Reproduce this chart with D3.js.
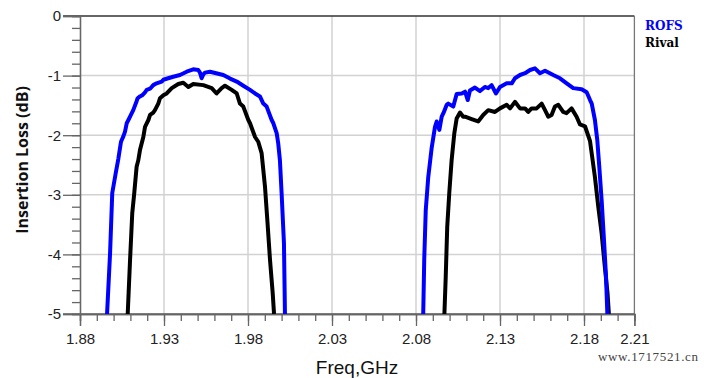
<!DOCTYPE html>
<html>
<head>
<meta charset="utf-8">
<script src="https://cdn.jsdelivr.net/npm/d3@7"></script>
<style>
  body { margin: 0; background: #fff; }
  svg { display: block; }
</style>
</head>
<body>
<svg id="chart" width="709" height="378"></svg>
<script>
// ROFS, lower band
let rofsFreq1 = [1.8961, 1.8979, 1.8992, 1.9013, 1.9028, 1.9044, 1.9058, 1.9068, 1.9078, 1.9088, 1.9103, 1.9117,
  1.9137, 1.9143, 1.9157, 1.9170, 1.9187, 1.9197, 1.9217, 1.9236, 1.9256, 1.9286, 1.9296, 1.9325, 1.9355,
  1.9395, 1.9435, 1.9474, 1.9504, 1.9514, 1.9524, 1.9534, 1.9544, 1.9574, 1.9653, 1.9693, 1.9733, 1.9772,
  1.9812, 1.9842, 1.9871, 1.9891, 1.9911, 1.9941, 1.9951, 1.9971, 1.9980, 1.9990, 2.0000, 2.0014, 2.0020]
let rofsLoss1 = [-5, -3.98, -2.97, -2.63, -2.40, -2.11, -2.02, -1.94, -1.80, -1.745, -1.66, -1.58,
  -1.43, -1.38, -1.35, -1.33, -1.28, -1.24, -1.22, -1.16, -1.13, -1.10, -1.07, -1.045, -1.02,
  -0.99, -0.935, -0.895, -0.906, -0.95, -1.045, -0.98, -0.95, -0.935, -0.99, -1.05, -1.10, -1.17,
  -1.24, -1.30, -1.35, -1.47, -1.52, -1.745, -1.80, -1.97, -2.14, -2.42, -2.97, -3.81, -5]

// Rival, lower band
let rivalFreq1 = [1.9084, 1.9098, 1.9111, 1.9123, 1.9137, 1.9147, 1.9157, 1.9177, 1.9187, 1.9207, 1.9217, 1.9236,
  1.9246, 1.9266, 1.9276, 1.9296, 1.9316, 1.9346, 1.9385, 1.9415, 1.9445, 1.9474, 1.9534, 1.9584, 1.9613,
  1.9643, 1.9663, 1.9703, 1.9733, 1.9752, 1.9772, 1.9802, 1.9812, 1.9842, 1.9861, 1.9881, 1.9901, 1.9915,
  1.9931, 1.9947, 1.9955]
let rivalLoss1 = [-5, -4.09, -3.31, -2.97, -2.53, -2.42, -2.25, -2.03, -1.86, -1.745, -1.66, -1.62,
  -1.58, -1.47, -1.38, -1.33, -1.30, -1.21, -1.14, -1.12, -1.19, -1.14, -1.16, -1.21, -1.30,
  -1.21, -1.17, -1.24, -1.30, -1.47, -1.52, -1.745, -1.80, -2.03, -2.11, -2.30, -2.86, -3.42,
  -4.09, -4.65, -5]

// ROFS, upper band
let rofsFreq2 = [2.0843, 2.0849, 2.0858, 2.0873, 2.0893, 2.0913, 2.0923, 2.0939, 2.0953, 2.0963, 2.0983, 2.0992,
  2.1022, 2.1042, 2.1072, 2.1092, 2.1108, 2.1121, 2.1151, 2.1181, 2.1210, 2.1230, 2.1250, 2.1276, 2.1300,
  2.1340, 2.1370, 2.1389, 2.1419, 2.1449, 2.1479, 2.1508, 2.1538, 2.1568, 2.1617, 2.1657, 2.1697, 2.1736,
  2.1786, 2.1816, 2.1836, 2.1846, 2.1865, 2.1879, 2.1891, 2.1905, 2.1919, 2.1931, 2.1939]
let rofsLoss2 = [-5, -4.09, -3.26, -2.70, -2.22, -1.86, -1.77, -1.91, -1.69, -1.63, -1.49, -1.47,
  -1.52, -1.31, -1.30, -1.27, -1.41, -1.25, -1.20, -1.26, -1.19, -1.21, -1.16, -1.30, -1.19,
  -1.13, -1.13, -1.045, -0.99, -0.96, -0.906, -0.878, -0.96, -0.918, -0.99, -1.045, -1.13, -1.21,
  -1.23, -1.28, -1.41, -1.47, -1.745, -2.08, -2.53, -3.09, -3.76, -4.37, -5]

// Rival, upper band
let rivalFreq2 = [2.0969, 2.0977, 2.0986, 2.0998, 2.1012, 2.1028, 2.1042, 2.1062, 2.1081, 2.1092, 2.1131, 2.1170,
  2.1200, 2.1230, 2.1270, 2.1300, 2.1340, 2.1360, 2.1389, 2.1419, 2.1449, 2.1468, 2.1488, 2.1518, 2.1548,
  2.1568, 2.1587, 2.1607, 2.1627, 2.1647, 2.1676, 2.1696, 2.1726, 2.1756, 2.1776, 2.1806, 2.1836, 2.1865,
  2.1885, 2.1905, 2.1924, 2.1940, 2.1948]
let rivalLoss2 = [-5, -4.37, -3.53, -2.97, -2.42, -1.97, -1.72, -1.62, -1.69, -1.69, -1.73, -1.77,
  -1.66, -1.58, -1.61, -1.55, -1.49, -1.55, -1.44, -1.55, -1.55, -1.61, -1.55, -1.55, -1.47,
  -1.58, -1.69, -1.66, -1.52, -1.49, -1.61, -1.63, -1.55, -1.69, -1.82, -1.85, -2.10, -2.70,
  -3.20, -3.65, -4.21, -4.65, -5]

let xTickValues = [1.88, 1.93, 1.98, 2.03, 2.08, 2.13, 2.18, 2.21]
let yTickValues = [0, -1, -2, -3, -4, -5]
let seriesNames = ["ROFS", "Rival"]
let seriesColors = ["#0000ff", "#000000"]

let width = 709,
    height = 378,
    margins = {left: 80, right: 75, top: 16, bottom: 64};

let svg = d3.select("#chart")

let x = d3.scaleLinear().domain([1.88, 2.21]).range([margins.left, 634.4])
let y = d3.scaleLinear().domain([-5, 0]).range([height - margins.bottom, margins.top])

let minorX = d3.range(188, 222).map(d => d / 100)
let minorY = d3.range(0, 26).map(d => -d / 5)
let gridColor = "#d2d2d2",
    axisColor = "#666"

// grid
svg.append("g")
  .selectAll("line")
  .data(xTickValues.slice(1, -1)).enter()
  .append("line")
  .attr("x1", d => x(d)).attr("x2", d => x(d))
  .attr("y1", y(0)).attr("y2", y(-5))
  .attr("stroke", gridColor).attr("stroke-width", 1.5)

svg.append("g")
  .selectAll("line")
  .data(yTickValues.slice(1, -1)).enter()
  .append("line")
  .attr("x1", x(1.88)).attr("x2", x(2.21))
  .attr("y1", d => y(d)).attr("y2", d => y(d))
  .attr("stroke", gridColor).attr("stroke-width", 1.5)

// frame: top and right
svg.append("line")
  .attr("x1", x(1.88) - 17).attr("x2", x(2.21))
  .attr("y1", y(0)).attr("y2", y(0))
  .attr("stroke", "#333").attr("stroke-width", 1.3)
svg.append("line")
  .attr("x1", x(2.21)).attr("x2", x(2.21))
  .attr("y1", y(0)).attr("y2", y(-5))
  .attr("stroke", "#777").attr("stroke-width", 1.3)

// axes
let xMinor = svg.append("g")
  .attr("transform", `translate(0, ${y(-5)})`)
  .call(d3.axisBottom(x).tickValues(minorX).tickSize(7).tickFormat(""))
let xAxis = svg.append("g")
  .attr("transform", `translate(0, ${y(-5)})`)
  .call(d3.axisBottom(x).tickValues(xTickValues).tickSize(12).tickPadding(7)
    .tickFormat(d3.format(".2f")))

let yMinor = svg.append("g")
  .attr("transform", `translate(${x(1.88)}, 0)`)
  .call(d3.axisLeft(y).tickValues(minorY).tickSize(8).tickFormat(""))
let yAxis = svg.append("g")
  .attr("transform", `translate(${x(1.88)}, 0)`)
  .call(d3.axisLeft(y).tickValues(yTickValues).tickSize(17).tickPadding(2)
    .tickFormat(d => d === 0 ? "0" : "-" + Math.abs(d)))

for (let g of [xMinor, xAxis, yMinor, yAxis]) {
  g.select(".domain").attr("stroke", axisColor).attr("stroke-width", 1.3)
  g.selectAll(".tick line").attr("stroke", axisColor).attr("stroke-width", 1.3)
  g.selectAll(".tick text")
    .attr("fill", "#222")
    .style("font-family", "Liberation Sans, Arial, sans-serif")
    .style("font-size", "15px")
}
// extend bottom line out to the -5 tick
svg.append("line")
  .attr("x1", x(1.88) - 17).attr("x2", x(2.21))
  .attr("y1", y(-5)).attr("y2", y(-5))
  .attr("stroke", axisColor).attr("stroke-width", 1.3)

// curves
svg.append("clipPath").attr("id", "plotclip")
  .append("rect")
  .attr("x", x(1.88)).attr("y", y(0))
  .attr("width", x(2.21) - x(1.88)).attr("height", y(-5) - y(0))

let line = d3.line()
  .x(d => x(d[0]))
  .y(d => y(d[1]))

let curves = [
  {freq: rivalFreq1, loss: rivalLoss1, color: seriesColors[1]},
  {freq: rivalFreq2, loss: rivalLoss2, color: seriesColors[1]},
  {freq: rofsFreq1, loss: rofsLoss1, color: seriesColors[0]},
  {freq: rofsFreq2, loss: rofsLoss2, color: seriesColors[0]}
]

svg.append("g")
  .attr("clip-path", "url(#plotclip)")
  .selectAll("path")
  .data(curves).enter()
  .append("path")
  .attr("d", c => line(d3.zip(c.freq, c.loss)))
  .attr("fill", "none")
  .attr("stroke", c => c.color)
  .attr("stroke-width", 4)
  .attr("stroke-linejoin", "round")

// axis titles
svg.append("text")
  .attr("x", 357).attr("y", 374)
  .attr("text-anchor", "middle")
  .style("font-family", "Liberation Sans, Arial, sans-serif")
  .style("font-size", "19px")
  .attr("fill", "#111")
  .text("Freq,GHz")

svg.append("text")
  .attr("transform", "translate(28, 160) rotate(-90)")
  .attr("text-anchor", "middle")
  .style("font-family", "Open Sans, sans-serif")
  .style("font-size", "16px")
  .style("font-weight", "bold")
  .attr("fill", "#111")
  .text("Insertion Loss (dB)")

// legend
svg.append("g")
  .selectAll("text")
  .data(seriesNames).enter()
  .append("text")
  .attr("x", 645)
  .attr("y", (d, i) => 30 + i * 17)
  .style("font-family", "DejaVu Serif, serif")
  .style("font-size", "12px")
  .style("font-weight", "bold")
  .attr("fill", (d, i) => seriesColors[i])
  .text(d => d)

// watermark
svg.append("text")
  .attr("x", 598).attr("y", 361)
  .attr("textLength", 100)
  .style("font-family", "Liberation Serif, serif")
  .style("font-size", "13px")
  .attr("fill", "#444")
  .text("www.1717521.cn")
</script>
</body>
</html>
